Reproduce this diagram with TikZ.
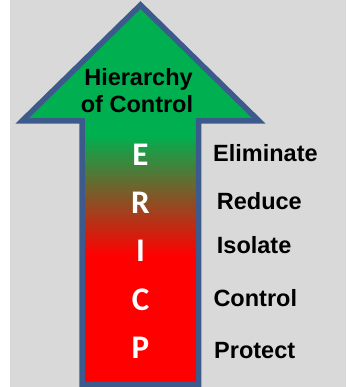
\documentclass[tikz,border=0pt]{standalone}
\usepackage{fontspec}
\setmainfont{Liberation Sans}
\newfontfamily\letterfont{Carlito}
\definecolor{bggray}{RGB}{217,217,217}
\definecolor{edgeblue}{RGB}{60,90,140}
\definecolor{arrgreen}{RGB}{0,176,80}
\definecolor{arrred}{RGB}{255,0,0}
\tikzset{
  lbl/.style={inner sep=0pt, anchor=base west, font=\fontsize{23.5}{28}\selectfont\bfseries, text=black},
  ttl/.style={inner sep=0pt, anchor=base, font=\fontsize{23.5}{28}\selectfont\bfseries, text=black},
  ltr/.style={inner sep=0pt, anchor=base, font=\letterfont\fontsize{33}{38}\selectfont\bfseries, text=white}
}
\begin{document}
\begin{tikzpicture}[x=1pt,y=1pt]
\useasboundingbox (0,0) rectangle (346,387);
\fill[white] (0,0) rectangle (346,387);
\fill[bggray] (10,0) rectangle (346,387);
% arrow fill
\fill[arrgreen] (82,2.5) -- (82,266) -- (22,266) -- (140.5,382) -- (259,266) -- (198.5,266) -- (198.5,2.5) -- cycle;
\fill[arrred] (82,2.5) rectangle (198.5,132);
\shade[top color=arrgreen, bottom color=arrred] (82,131.5) rectangle (198.5,252);
% arrow outline
\draw[edgeblue, line width=5.5pt, line join=miter] (82,2.5) -- (82,266) -- (22,266) -- (140.5,382) -- (259,266) -- (198.5,266) -- (198.5,2.5) -- cycle;
% title
\node[ttl] (t1) at (138.5,301) {Hierarchy};
\node[ttl] (t2) at (137,274) {of Control};
% letters
\node[ltr] (E) at (140.5,221) {E};
\node[ltr] (R) at (140.5,173.5) {R};
\node[ltr] (I) at (140.5,125) {I};
\node[ltr] (C) at (140.5,76.5) {C};
\node[ltr] (P) at (140.5,28) {P};
% labels
\node[lbl] (l1) at (213,225.3) {Eliminate};
\node[lbl] (l2) at (216.7,177) {Reduce};
\node[lbl] (l3) at (216.7,133.7) {Isolate};
\node[lbl] (l4) at (213.3,80.7) {Control};
\node[lbl] (l5) at (214,28.3) {Protect};
\end{tikzpicture}
\end{document}
